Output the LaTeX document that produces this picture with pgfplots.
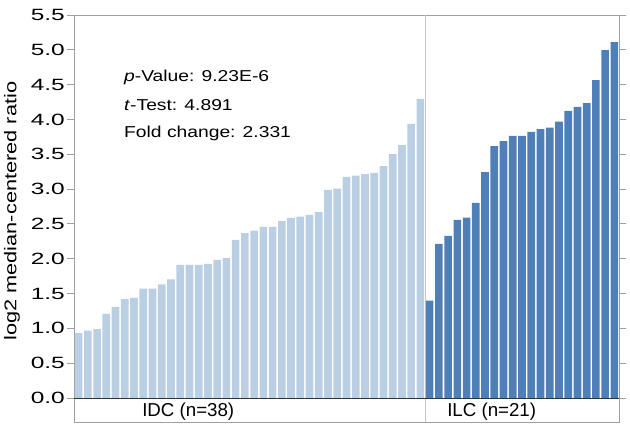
\documentclass[border=0pt]{standalone}
\usepackage{pgfplots}
\pgfplotsset{compat=1.18}
\usepackage{fontspec}
\setmainfont{Liberation Sans}
\newfontfamily\tickfont{Liberation Sans}[FakeStretch=1.5]
\newfontfamily\annfont{Liberation Sans}[FakeStretch=1.22]
\newfontfamily\labfont{Liberation Sans}[FakeStretch=1.28]
\definecolor{idc}{HTML}{BACFE3}
\definecolor{ilc}{HTML}{4E80B7}

\begin{document}
\begin{tikzpicture}
\begin{axis}[
    at={(0,0)}, anchor=south west,
    scale only axis,
    width=545bp, height=407bp,
    xmin=0.5, xmax=59.5,
    ymin=-0.345, ymax=5.5,
    xtick=\empty,
    ytick={0,0.5,1,1.5,2,2.5,3,3.5,4,4.5,5,5.5},
    ytick pos=both,
    yticklabel pos=left,
    tick align=outside,
    major tick length=7bp,
    axis line style={gray!75, line width=0.8bp},
    tick style={gray!75, line width=0.8bp},
    yticklabel style={font=\tickfont\fontsize{16.3bp}{19bp}\selectfont, inner sep=2bp},
    /pgf/number format/.cd, fixed, fixed zerofill, precision=1, assume math mode=true,
    /pgfplots/.cd,
    every axis y label/.style={at={(axis description cs:-0.1138,0.518)}, rotate=90, anchor=center},
    ylabel={\labfont\fontsize{17bp}{20bp}\selectfont log2 median-centered ratio},
    ybar, bar width=0.83, bar shift=0pt,
    clip=false,
]
\draw[gray!45, line width=0.8bp] (axis cs:38.5,-0.345) -- (axis cs:38.5,5.5);
% IDC
\addplot[fill=idc, draw=none] coordinates {
(1,0.930) (2,0.967) (3,0.987) (4,1.207) (5,1.307) (6,1.418) (7,1.437) (8,1.571)
(9,1.571) (10,1.633) (11,1.705) (12,1.911) (13,1.911) (14,1.911) (15,1.925) (16,1.983)
(17,2.007) (18,2.270) (19,2.366) (20,2.404) (21,2.457) (22,2.457) (23,2.539) (24,2.586)
(25,2.605) (26,2.629) (27,2.668) (28,2.989) (29,3.008) (30,3.175) (31,3.194) (32,3.214)
(33,3.233) (34,3.329) (35,3.501) (36,3.630) (37,3.937) (38,4.296)
};
% ILC
\addplot[fill=ilc, draw=none] coordinates {
(39,1.398) (40,2.213) (41,2.328) (42,2.557) (43,2.591) (44,2.802) (45,3.243) (46,3.616)
(47,3.688) (48,3.764) (49,3.764) (50,3.822) (51,3.860) (52,3.884) (53,3.970) (54,4.124)
(55,4.181) (56,4.234) (57,4.564) (58,4.995) (59,5.110)
};
\draw[black!80, line width=0.9bp] (axis cs:0.5,0) -- (axis cs:59.5,0);
\begin{scope}[font=\annfont\fontsize{15.8bp}{19bp}\selectfont]
\node[anchor=base west, inner sep=0] at (axis cs:5.91,4.54) {\textit{p}-Value: 9.23E-6};
\node[anchor=base west, inner sep=0] at (axis cs:5.91,4.128) {\textit{t}-Test: 4.891};
\node[anchor=base west, inner sep=0] at (axis cs:5.91,3.746) {Fold change: 2.331};
\end{scope}
\begin{scope}[font=\fontsize{18.7bp}{22bp}\selectfont]
\node[anchor=base, inner sep=0] at (axis cs:12.87,-0.259) {IDC (n=38)};
\node[anchor=base, inner sep=0] at (axis cs:45.72,-0.259) {ILC (n=21)};
\end{scope}
\end{axis}
\pgfresetboundingbox
\path (-74bp,-18bp) rectangle (556bp,422bp);
\end{tikzpicture}
\end{document}
